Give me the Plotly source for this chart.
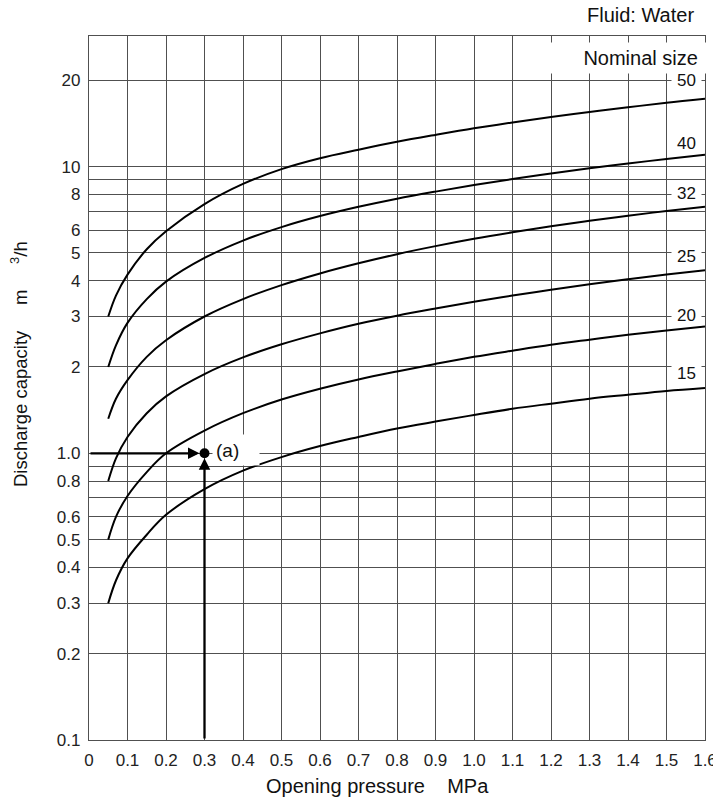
import math
import plotly.graph_objects as go

# ---------------- data ----------------
pressure = [0.05, 0.07, 0.1, 0.15, 0.2, 0.3, 0.4, 0.5, 0.6, 0.7, 0.8,
            0.9, 1.0, 1.1, 1.2, 1.3, 1.4, 1.5, 1.6]
q_50 = [3.0, 3.55, 4.2, 5.15, 5.95, 7.4, 8.7, 9.8, 10.7, 11.45, 12.2,
        12.9, 13.6, 14.25, 14.9, 15.5, 16.1, 16.7, 17.25]
q_40 = [2.0, 2.38, 2.85, 3.45, 3.97, 4.8, 5.52, 6.15, 6.72, 7.24, 7.73,
        8.18, 8.62, 9.05, 9.46, 9.86, 10.25, 10.63, 11.0]
q_32 = [1.32, 1.55, 1.8, 2.17, 2.48, 3.0, 3.45, 3.86, 4.24, 4.6, 4.95,
        5.28, 5.6, 5.9, 6.19, 6.47, 6.74, 7.0, 7.25]
q_25 = [0.8, 0.96, 1.14, 1.38, 1.58, 1.89, 2.16, 2.4, 2.62, 2.83, 3.02,
        3.2, 3.38, 3.55, 3.72, 3.89, 4.05, 4.2, 4.35]
q_20 = [0.5, 0.6, 0.71, 0.86, 1.0, 1.2, 1.38, 1.54, 1.68, 1.81, 1.93,
        2.05, 2.17, 2.28, 2.39, 2.49, 2.59, 2.68, 2.77]
q_15 = [0.30, 0.36, 0.43, 0.52, 0.61, 0.75, 0.87, 0.97, 1.06, 1.14, 1.22,
        1.29, 1.36, 1.43, 1.49, 1.55, 1.60, 1.65, 1.69]

series = [("50", q_50), ("40", q_40), ("32", q_32),
          ("25", q_25), ("20", q_20), ("15", q_15)]

# nominal-size label positions (x, y in data units)
label_names = ["50", "40", "32", "25", "20", "15"]
label_x = 1.553
label_y = [20.0, 12.1, 8.1, 4.86, 3.03, 1.9]

# example point (a)
point_a_x = 0.3
point_a_y = 1.0

x_ticks = [round(0.1 * i, 1) for i in range(17)]
x_ticktext = ["0", "0.1", "0.2", "0.3", "0.4", "0.5", "0.6", "0.7", "0.8",
              "0.9", "1.0", "1.1", "1.2", "1.3", "1.4", "1.5", "1.6"]
y_ticks = [0.1, 0.2, 0.3, 0.4, 0.5, 0.6, 0.7, 0.8, 0.9, 1.0,
           2, 3, 4, 5, 6, 7, 8, 9, 10, 20]
y_ticktext = ["0.1", "0.2", "0.3", "0.4", "0.5", "0.6", "", "0.8", "", "1.0",
              "2", "3", "4", "5", "6", "", "8", "", "10", "20"]

# ---------------- figure ----------------
FONT = "Liberation Sans, Arial, sans-serif"
GRID = "#505050"
W, H = 713, 800
ML, MR, MT, MB = 89, 8, 36, 60
PW, PH = W - ML - MR, H - MT - MB


def xp(px):
    return (px - ML) / PW


def yp(py):
    return (H - MB - py) / PH


fig = go.Figure()

for name, q in series:
    fig.add_trace(go.Scatter(
        x=pressure, y=q, mode="lines", name=name,
        line=dict(color="black", width=2, shape="spline", smoothing=1.0),
        showlegend=False, hoverinfo="skip"))

fig.add_trace(go.Scatter(
    x=[point_a_x], y=[point_a_y], mode="markers",
    marker=dict(color="black", size=10, symbol="circle"),
    showlegend=False, hoverinfo="skip"))

annotations = []

# arrows to point (a)
annotations.append(dict(
    x=point_a_x, y=math.log10(point_a_y), xref="x", yref="y",
    ax=0, ay=math.log10(point_a_y), axref="x", ayref="y",
    text="", showarrow=True, arrowhead=2, arrowsize=1.0, arrowwidth=2.3,
    arrowcolor="black", standoff=5))
annotations.append(dict(
    x=point_a_x, y=math.log10(point_a_y), xref="x", yref="y",
    ax=point_a_x, ay=-1, axref="x", ayref="y",
    text="", showarrow=True, arrowhead=2, arrowsize=1.0, arrowwidth=2.3,
    arrowcolor="black", standoff=5))

# (a) label with white box
annotations.append(dict(
    x=xp(212), y=yp(450), xref="paper", yref="paper",
    xanchor="left", yanchor="middle", text="(a)", showarrow=False,
    align="left", width=40, height=24, borderpad=3, bgcolor="white",
    font=dict(family=FONT, size=19, color="#111")))

# nominal size labels
for nm, ly in zip(label_names, label_y):
    annotations.append(dict(
        x=label_x, y=math.log10(ly), xref="x", yref="y",
        xanchor="center", yanchor="middle", text=nm, showarrow=False,
        width=27, height=18, borderpad=1, bgcolor="white",
        font=dict(family=FONT, size=17, color="#111")))

# "Nominal size" text in a white box
annotations.append(dict(
    x=xp(546), y=yp(58), xref="paper", yref="paper",
    xanchor="left", yanchor="middle",
    text="Nominal size\u00a0\u00a0", showarrow=False,
    align="right", width=162, height=30, borderpad=0, bgcolor="white",
    font=dict(family=FONT, size=20, color="#111")))

# Fluid: Water
annotations.append(dict(
    x=xp(696), y=yp(15), xref="paper", yref="paper",
    xanchor="right", yanchor="middle", text="Fluid: Water", showarrow=False,
    font=dict(family=FONT, size=20, color="#111")))

# axis titles
annotations.append(dict(
    x=xp(377), y=yp(786), xref="paper", yref="paper",
    xanchor="center", yanchor="middle",
    text="Opening pressure\u00a0\u00a0\u00a0\u00a0MPa", showarrow=False,
    font=dict(family=FONT, size=20, color="#111")))
annotations.append(dict(
    x=xp(19), y=yp(364), xref="paper", yref="paper",
    xanchor="center", yanchor="middle", textangle=-90,
    text=("Discharge capacity\u00a0\u00a0\u00a0\u00a0\u00a0m"
          "\u00a0\u00a0\u00a0\u00a0\u00a0<sup>3</sup>/h"),
    showarrow=False,
    font=dict(family=FONT, size=18.5, color="#111")))

fig.update_layout(
    width=W, height=H,
    margin=dict(l=ML, r=MR, t=MT, b=MB, pad=0, autoexpand=False),
    paper_bgcolor="white", plot_bgcolor="white",
    font=dict(family=FONT, size=17, color="#222"),
    annotations=annotations,
    showlegend=False,
)

fig.update_xaxes(
    range=[0, 1.6], tickmode="array", tickvals=x_ticks, ticktext=x_ticktext,
    showgrid=True, gridcolor=GRID, gridwidth=1.3,
    showline=True, mirror=True, linecolor=GRID, linewidth=1.3,
    ticks="", zeroline=False, tickfont=dict(family=FONT, size=17, color="#222"),
    ticklabelstandoff=4, ticklabeloverflow="allow", automargin=False)
fig.update_yaxes(
    type="log", range=[-1, 1.4555], tickmode="array", tickvals=y_ticks,
    ticktext=y_ticktext,
    showgrid=True, gridcolor=GRID, gridwidth=1.3,
    showline=True, mirror=True, linecolor=GRID, linewidth=1.3,
    ticks="", zeroline=False, tickfont=dict(family=FONT, size=17, color="#222"),
    ticklabelstandoff=4, automargin=False)

fig.write_html("out.html")
